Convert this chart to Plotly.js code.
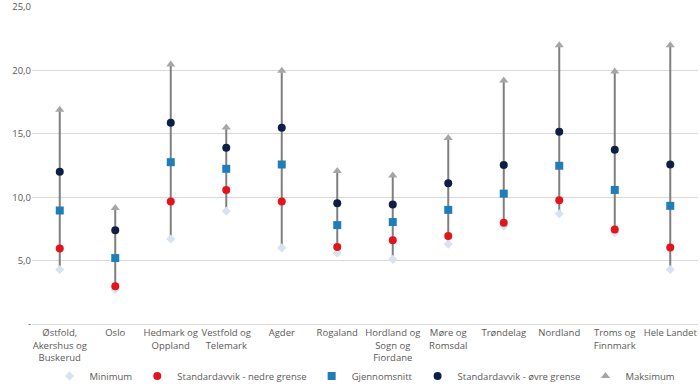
<!DOCTYPE html>
<html>
<head>
<meta charset="utf-8">
<script src="https://cdn.plot.ly/plotly-3.0.1.min.js"></script>
<style>html,body{margin:0;padding:0;background:#fff;}#chart{width:700px;height:385px;}</style>
</head>
<body>
<div id="chart"></div>
<script>
var categories = ["Østfold,<br>Akershus og<br>Buskerud", "Oslo", "Hedmark og<br>Oppland", "Vestfold og<br>Telemark", "Agder", "Rogaland", "Hordland og<br>Sogn og<br>Fjordane", "Møre og<br>Romsdal", "Trøndelag", "Nordland", "Troms og<br>Finnmark", "Hele Landet"];
var minimum   = [4.3, 2.7, 6.7, 8.9, 6.0, 5.6, 5.1, 6.3, 7.7, 8.7, 7.2, 4.3];
var sdLower   = [5.95, 2.97, 9.66, 10.57, 9.66, 6.08, 6.6, 6.94, 7.99, 9.76, 7.46, 6.03];
var mean      = [8.95, 5.2, 12.76, 12.24, 12.58, 7.8, 8.04, 9.0, 10.28, 12.48, 10.57, 9.32];
var sdUpper   = [12.0, 7.4, 15.87, 13.9, 15.48, 9.53, 9.42, 11.1, 12.53, 15.17, 13.75, 12.58];
var maximum   = [16.9, 9.14, 20.47, 15.5, 19.97, 12.06, 11.72, 14.67, 19.2, 21.98, 19.92, 21.98];
var yTickVals = [0, 5, 10, 15, 20, 25];
var yTickText = ["-", "5,0", "10,0", "15,0", "20,0", "25,0"];

var lx = [], ly = [];
for (var i = 0; i < categories.length; i++) {
  lx.push(categories[i], categories[i], null);
  ly.push(minimum[i], maximum[i], null);
}
var traces = [
  {x: lx, y: ly, mode: "lines", line: {color: "#7f7f7f", width: 2}, showlegend: false, hoverinfo: "skip"},
  {x: categories, y: minimum, name: "Minimum", mode: "markers", marker: {symbol: "diamond", size: 7, color: "#d6e3f0"}},
  {x: categories, y: sdLower, name: "Standardavvik - nedre grense", mode: "markers", marker: {symbol: "circle", size: 8, color: "#e3141b"}},
  {x: categories, y: mean, name: "Gjennomsnitt", mode: "markers", marker: {symbol: "square", size: 8, color: "#1f7eb8"}},
  {x: categories, y: sdUpper, name: "Standardavvik - øvre grense", mode: "markers", marker: {symbol: "circle", size: 8, color: "#0e1f45"}},
  {x: categories, y: maximum, name: "Maksimum", mode: "markers", marker: {symbol: "triangle-up", size: 8, color: "#a6a6a6"}}
];
var layout = {
  width: 700, height: 385,
  margin: {l: 32, r: 2, t: 7, b: 61, autoexpand: false},
  paper_bgcolor: "#fff", plot_bgcolor: "#fff",
  font: {family: "Open Sans, sans-serif", size: 9.5, color: "#595959"},
  showlegend: true,
  legend: {orientation: "h", x: 0.5, xanchor: "center", y: -0.118, yanchor: "top", font: {size: 9.5, color: "#595959"}, itemwidth: 30},
  xaxis: {type: "category", range: [-0.5, 11.5], showgrid: false, showline: true, linecolor: "#d9d9d9", linewidth: 1, ticks: "", tickangle: 0, zeroline: false, automargin: false},
  yaxis: {range: [0, 25], tickvals: yTickVals, ticktext: yTickText, showgrid: true, gridcolor: "#d9d9d9", gridwidth: 1, zeroline: false, showline: false, ticks: "", automargin: false}
};
Plotly.newPlot("chart", traces, layout, {displayModeBar: false, staticPlot: true});
</script>
</body>
</html>
